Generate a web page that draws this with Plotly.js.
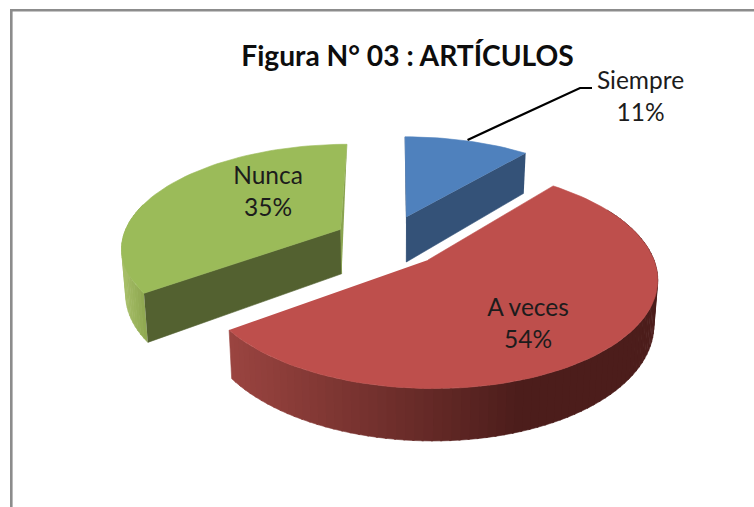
<!DOCTYPE html>
<html>
<head>
<meta charset="utf-8">
<script src="https://cdn.plot.ly/plotly-3.0.1.min.js"></script>
<style>html,body{margin:0;padding:0;background:#fff}#c{width:754px;height:507px}</style>
</head>
<body>
<div id="c"></div>
<script>
const chartTitle = "Figura N° 03 : ARTÍCULOS";
const categories = ["Siempre", "A veces", "Nunca"];
const percentages = [11, 54, 35];

// Projection of each exploded slice (3D pie seen in perspective)
const PERSP = 0.16;
const geom = [
  {cx:406.5, cy:217, R:212, Rk:93,  q:-0.008, d:45, top:"#4f81bd", cut:"#345278", edge:"#2c4a70"},
  {cx:428,   cy:260, R:226, Rk:108, q:-0.02,  d:44, top:"#be4f4c"},
  {cx:340.7, cy:229.3,R:215,Rk:98.6,q:0.034,  d:44.5, top:"#9bbb59", cut:"#536130", edge:"#8aa44f"}
];
const labelPos = [[640.5,99],[528,326],[268,194]];

function pt(g, deg, low){
  const a = deg*Math.PI/180, u = Math.sin(a), v = Math.cos(a), s = 1/(1+PERSP*v);
  let X = g.cx + g.R*(u+g.q*v)*s, Y = g.cy - g.Rk*v*s;
  if(low){ Y += g.d*s; X = 400+(X-400)*0.985; }
  return [X,Y];
}
function apex(g, low){
  return low ? [g.cx+(400-g.cx)*0.015, g.cy+g.d] : [g.cx,g.cy];
}
function poly(pts, color){
  return {type:"scatter", mode:"lines", x:pts.map(p=>p[0]), y:pts.map(p=>p[1]),
    fill:"toself", fillcolor:color, line:{color:color,width:0.6}, hoverinfo:"skip", showlegend:false};
}
function arc(g, a0, a1, low){
  const out=[], n=Math.max(2,Math.ceil(Math.abs(a1-a0)/2));
  for(let i=0;i<=n;i++) out.push(pt(g,a0+(a1-a0)*i/n,low));
  return out;
}
function mix(c1,c2,t){
  t=Math.max(0,Math.min(1,t));
  return "rgb("+c1.map((c,i)=>Math.round(c+(c2[i]-c)*t)).join(",")+")";
}

// slice angles from the values
const total = percentages.reduce((a,b)=>a+b,0);
const starts=[]; let acc=0;
percentages.forEach(v=>{starts.push(acc/total*360); acc+=v;});
const ends = starts.map((s,i)=>s+percentages[i]/total*360);

const traces=[];
// Nunca
(function(){
  const g=geom[2], a0=starts[2], a1=ends[2];
  for(let a=a0;a<285;a+=2){
    const b=Math.min(a+2.4,285), top=arc(g,a,b,false), bot=arc(g,b,a,true);
    const x=pt(g,a+1,false)[0];
    traces.push(poly(top.concat(bot),mix([166,190,104],[140,165,78],(x-122)/24)));
  }
  traces.push(poly([pt(g,a0,false),apex(g,false),apex(g,true),pt(g,a0,true)],g.cut));
  traces.push(poly([pt(g,a1,false),apex(g,false),apex(g,true)],g.edge));
  traces.push(poly([apex(g,false)].concat(arc(g,a0,a1,false)),g.top));
})();
// Siempre
(function(){
  const g=geom[0], a0=starts[0], a1=ends[0];
  traces.push(poly([pt(g,a0,false),apex(g,false),apex(g,true)],g.edge));
  traces.push(poly([pt(g,a1,false),apex(g,false),apex(g,true),pt(g,a1,true)],g.cut));
  traces.push(poly([apex(g,false)].concat(arc(g,a0,a1,false)),g.top));
})();
// A veces
(function(){
  const g=geom[1], a0=starts[1], a1=ends[1];
  for(let a=60;a<a1;a+=2){
    const b=Math.min(a+2.4,a1), top=arc(g,a,b,false), bot=arc(g,b,a,true);
    const x=pt(g,a+1,false)[0];
    traces.push(poly(top.concat(bot),mix([76,29,27],[154,68,64],(520-x)/289)));
  }
  traces.push(poly([apex(g,false)].concat(arc(g,a0,a1,false)),g.top));
})();
// leader line for Siempre, anchored on the middle of its arc
(function(){
  const g=geom[0], m=pt(g,(starts[0]+ends[0])/2,false);
  traces.push({type:"scatter",mode:"lines",x:[m[0],580,592],y:[m[1]-1,88,88],
    line:{color:"#000",width:2.2},hoverinfo:"skip",showlegend:false});
})();
// labels
traces.push({type:"scatter",mode:"text",
  x:labelPos.map(p=>p[0]),y:labelPos.map(p=>p[1]),
  text:categories.map((c,i)=>c+"<br>"+percentages[i]+"%"),
  textposition:"middle center",
  textfont:{family:"Lato, Carlito, sans-serif",size:24.5,color:"#1c1c1c"},
  hoverinfo:"skip",showlegend:false});

const layout={
  width:754,height:507,margin:{l:0,r:0,t:0,b:0},
  paper_bgcolor:"#fff",plot_bgcolor:"#fff",showlegend:false,
  title:{text:"<b>"+chartTitle+"</b>",x:407.5/754,xanchor:"center",y:1-56/507,yanchor:"middle",
    font:{family:"Lato, Carlito, sans-serif",size:28.2,color:"#0d0d0d"}},
  xaxis:{range:[0,754],visible:false,fixedrange:true},
  yaxis:{range:[507,0],visible:false,fixedrange:true},
  shapes:[
    {type:"line",xref:"x",yref:"y",x0:11.3,y0:10.3,x1:754,y1:10.3,line:{color:"#8c8c8c",width:2.6}},
    {type:"line",xref:"x",yref:"y",x0:11.3,y0:9,x1:11.3,y1:507,line:{color:"#8c8c8c",width:2.6}}
  ]
};
Plotly.newPlot("c",traces,layout,{displayModeBar:false,staticPlot:true});
</script>
</body>
</html>
